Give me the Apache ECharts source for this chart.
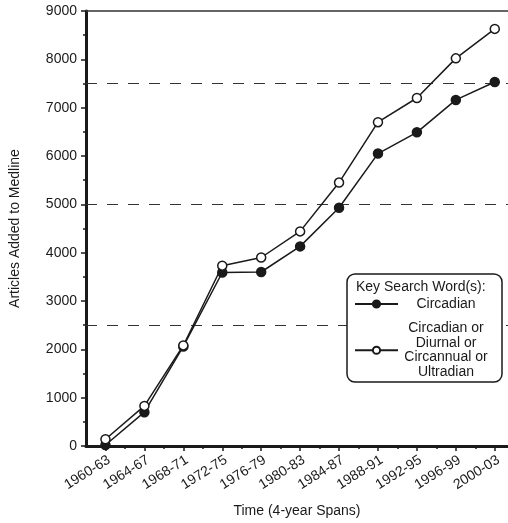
<!DOCTYPE html>
<html>
<head>
<meta charset="utf-8">
<script src="https://cdn.jsdelivr.net/npm/echarts@6/dist/echarts.min.js"></script>
<style>
  html, body { margin: 0; padding: 0; background: #fff; }
  #chart { width: 508px; height: 523px; }
</style>
</head>
<body>
<div id="chart"></div>
<script>
// Four-year spans on the horizontal axis
const categories = ['1960-63', '1964-67', '1968-71', '1972-75', '1976-79', '1980-83',
  '1984-87', '1988-91', '1992-95', '1996-99', '2000-03'];

// Articles added to Medline per span, by key search word(s)
const circadian = [20, 700, 2060, 3590, 3600, 4130, 4930, 6050, 6490, 7160, 7530];
const anyRhythm = [140, 830, 2080, 3730, 3900, 4440, 5450, 6700, 7200, 8020, 8630];

// Dashed reference levels
const refLevels = [2500, 5000, 7500];

const seriesNames = ['Circadian', 'Circadian or Diurnal or Circannual or Ultradian'];
const legendLabels = {
  'Circadian': '{t|Circadian}',
  'Circadian or Diurnal or Circannual or Ultradian':
    '{t|Circadian or}\n{t|Diurnal or}\n{t|Circannual or}\n{t|Ultradian}'
};

const FONT = '"Liberation Sans", Arial, Helvetica, sans-serif';
const INK = '#1a1a1a';

const majorX = categories.map((c, i) => i);
const minorX = categories.slice(1).map((c, i) => i + 0.5);

const toPoints = arr => arr.map((v, i) => [i, v]);

const chart = echarts.init(document.getElementById('chart'), null, { renderer: 'canvas' });

chart.setOption({
  backgroundColor: '#fff',
  animation: false,
  textStyle: { fontFamily: FONT, color: INK },
  title: {
    text: 'Key Search Word(s):',
    left: 356,
    top: 280,
    padding: 0,
    z: 12,
    textStyle: { fontFamily: FONT, fontSize: 14, fontWeight: 'normal', color: INK }
  },
  legend: {
    orient: 'vertical',
    left: 347,
    top: 274,
    z: 10,
    padding: [23, 13, 3, 7],
    itemGap: 10.5,
    itemWidth: 43,
    itemHeight: 9,
    backgroundColor: '#fff',
    borderColor: INK,
    borderWidth: 1.5,
    borderRadius: 8,
    data: seriesNames,
    formatter: name => legendLabels[name],
    textStyle: {
      fontFamily: FONT,
      fontSize: 14,
      color: INK,
      rich: {
        t: { width: 86, align: 'center', fontSize: 14, lineHeight: 14.5, fontFamily: FONT, color: INK }
      }
    }
  },
  grid: { left: 86, top: 11, right: 0, bottom: 76, containLabel: false },
  xAxis: [
    {
      type: 'value',
      min: -0.5,
      max: 10.34,
      name: 'Time (4-year Spans)',
      nameLocation: 'middle',
      nameGap: 58,
      nameTextStyle: { fontFamily: FONT, fontSize: 14, color: INK },
      axisLine: { show: true, onZero: false, lineStyle: { color: INK, width: 3 } },
      axisTick: { show: true, length: 5, customValues: majorX, lineStyle: { color: INK, width: 1.5 } },
      axisLabel: {
        customValues: majorX,
        formatter: v => categories[Math.round(v)] || '',
        rotate: 32,
        margin: 7,
        verticalAlign: 'top',
        fontFamily: FONT,
        fontSize: 14,
        color: INK
      },
      splitLine: { show: false }
    },
    {
      type: 'value',
      min: -0.5,
      max: 10.34,
      position: 'bottom',
      offset: 0,
      axisLine: { show: false },
      axisTick: { show: true, length: 3, customValues: minorX, lineStyle: { color: INK, width: 1.5 } },
      axisLabel: { show: false },
      splitLine: { show: false }
    },
    {
      type: 'value',
      min: -0.5,
      max: 10.34,
      position: 'top',
      axisLine: { show: true, onZero: false, lineStyle: { color: '#333', width: 1.5 } },
      axisTick: { show: false },
      axisLabel: { show: false },
      splitLine: { show: false }
    }
  ],
  yAxis: {
    type: 'value',
    min: 0,
    max: 9000,
    interval: 1000,
    name: 'Articles Added to Medline',
    nameLocation: 'middle',
    nameGap: 64,
    nameTextStyle: { fontFamily: FONT, fontSize: 14, color: INK },
    axisLine: { show: true, onZero: false, lineStyle: { color: INK, width: 3 } },
    axisTick: { show: true, length: 5, lineStyle: { color: INK, width: 1.5 } },
    minorTick: { show: true, splitNumber: 2, length: 3, lineStyle: { color: INK, width: 1.5 } },
    axisLabel: { margin: 9, formatter: v => String(v), fontFamily: FONT, fontSize: 14, color: INK },
    splitLine: { show: false },
    minorSplitLine: { show: false }
  },
  series: [
    {
      name: seriesNames[0],
      type: 'line',
      xAxisIndex: 0,
      data: toPoints(circadian),
      symbol: 'circle',
      symbolSize: 9,
      showAllSymbol: true,
      lineStyle: { color: INK, width: 1.5 },
      itemStyle: { color: INK, borderColor: INK, borderWidth: 1.5 },
      markLine: {
        silent: true,
        z: 1,
        symbol: 'none',
        label: { show: false },
        lineStyle: { color: '#333', width: 1, type: [11, 10] },
        data: refLevels.map(v => ({ yAxis: v }))
      }
    },
    {
      name: seriesNames[1],
      type: 'line',
      xAxisIndex: 0,
      data: toPoints(anyRhythm),
      symbol: 'circle',
      symbolSize: 9,
      showAllSymbol: true,
      lineStyle: { color: INK, width: 1.5 },
      itemStyle: { color: '#fff', borderColor: INK, borderWidth: 1.5 }
    }
  ]
});
</script>
</body>
</html>
